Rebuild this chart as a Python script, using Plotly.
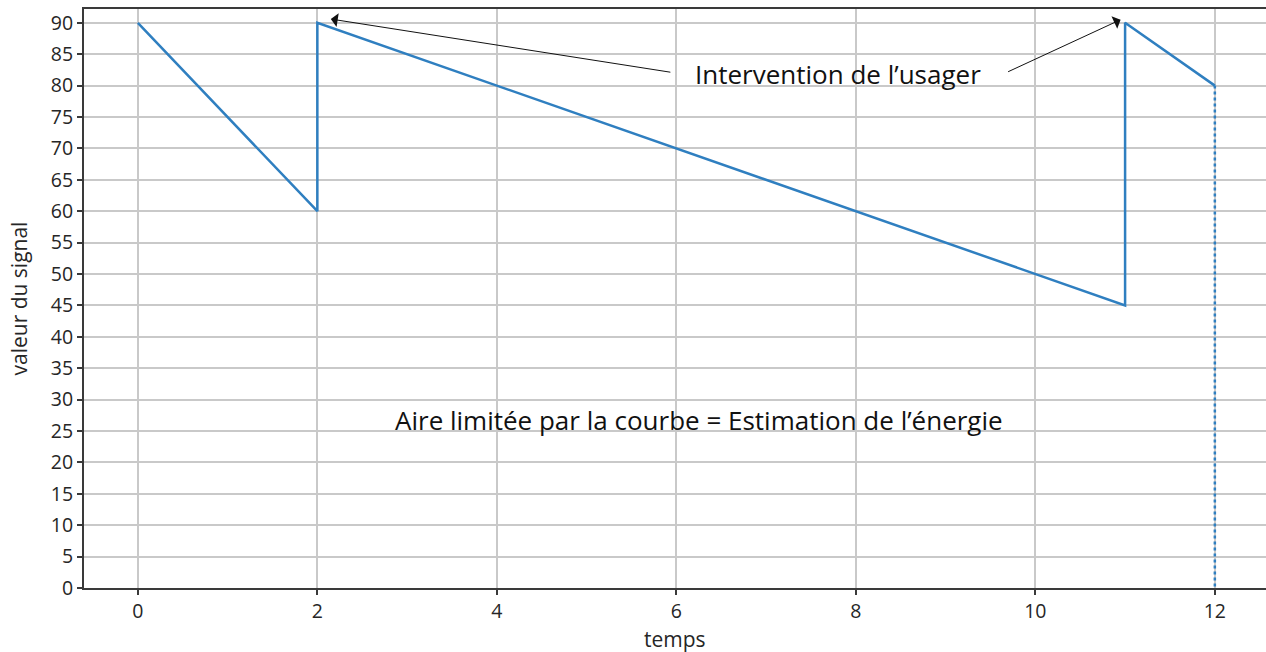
import plotly.graph_objects as go

# Signal over time: decays, then the user resets it to the max
temps = [0, 2, 2, 11, 11, 12]
signal = [90, 60, 90, 45, 90, 80]

# Closing edge of the area under the curve at the last instant
fin_temps = [12, 12]
fin_signal = [80, 0]

x_ticks = [0, 2, 4, 6, 8, 10, 12]
y_ticks = list(range(0, 95, 5))

BLUE = "#2f7fc0"
GRID = "#c9c9c9"
AXIS = "#3a3a3a"
TICK_FONT = dict(family="Open Sans", size=19.5, color="#262626")
TITLE_FONT = dict(family="Open Sans", size=21, color="#262626")
NOTE_FONT = dict(family="Open Sans", size=26, color="#111111")

fig = go.Figure()
fig.add_trace(go.Scatter(x=temps, y=signal, mode="lines",
                         line=dict(color=BLUE, width=2.5), hoverinfo="skip"))
fig.add_trace(go.Scatter(x=fin_temps, y=fin_signal, mode="lines",
                         line=dict(color=BLUE, width=2.5, dash="dot"), hoverinfo="skip"))

# Label and the two arrows pointing at the user's resets
fig.add_annotation(x=7.8, y=81.9, xref="x", yref="y", text="Intervention de l’usager",
                   showarrow=False, font=NOTE_FONT)
for tip_x, tip_y, tail_x, tail_y in [(2.15, 90.6, 5.95, 82.1), (10.95, 90.5, 9.68, 82.1)]:
    fig.add_annotation(x=tip_x, y=tip_y, ax=tail_x, ay=tail_y, xref="x", yref="y",
                       axref="x", ayref="y", text="", showarrow=True,
                       arrowhead=1, arrowsize=2.3, arrowwidth=1, arrowcolor="#111111")

fig.add_annotation(x=6.25, y=26.7, xref="x", yref="y",
                   text="Aire limitée par la courbe = Estimation de l’énergie",
                   showarrow=False, font=NOTE_FONT)

# Axis titles
fig.add_annotation(x=0, y=0.5, xref="paper", yref="paper", xshift=-66,
                   xanchor="center", yanchor="middle", textangle=-90,
                   text="valeur du signal", showarrow=False, font=TITLE_FONT)
fig.add_annotation(x=0.5, y=0, xref="paper", yref="paper", yshift=-51,
                   xanchor="center", yanchor="middle", borderpad=0,
                   text="temps", showarrow=False, font=TITLE_FONT)

fig.update_layout(
    width=1266, height=652,
    margin=dict(l=84, r=0, t=9, b=64),
    paper_bgcolor="white", plot_bgcolor="white",
    showlegend=False,
    xaxis=dict(range=[-0.6, 12.57], tickvals=x_ticks, ticks="outside", ticklen=5,
               tickwidth=1.5, tickcolor=AXIS, showgrid=True, gridcolor=GRID, gridwidth=1.6,
               showline=True, linecolor=AXIS, linewidth=2, mirror=True, zeroline=False,
               tickfont=TICK_FONT),
    yaxis=dict(range=[0, 92.2], tickvals=y_ticks, ticks="outside", ticklen=5,
               tickwidth=1.5, tickcolor=AXIS, showgrid=True, gridcolor=GRID, gridwidth=1.6,
               showline=True, linecolor=AXIS, linewidth=2, zeroline=False,
               tickfont=TICK_FONT),
)

fig.write_html("out.html")
